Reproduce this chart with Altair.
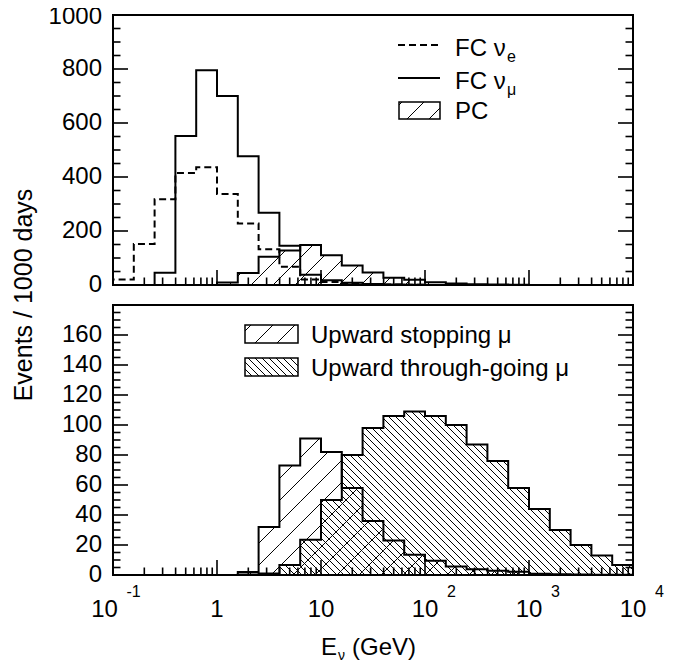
import math
import altair as alt
import pandas as pd

# ---------------- data ----------------
# log10 of the bin edges (5 bins per decade, 0.1 GeV .. 10^4 GeV)
EDGE_LOG10 = [-1.0, -0.8, -0.6, -0.4, -0.2, 0.0, 0.2, 0.4, 0.6, 0.8, 1.0, 1.2, 1.4,
              1.6, 1.8, 2.0, 2.2, 2.4, 2.6, 2.8, 3.0, 3.2, 3.4, 3.6, 3.8, 4.0]

# top panel, events / 1000 days per bin
FC_NUE = [20, 152, 318, 415, 436, 337, 228, 132, 68, 20, 11, 6, 3, 2, 1,
          0, 0, 0, 0, 0, 0, 0, 0, 0, 0]
FC_NUMU = [0, 0, 45, 552, 795, 700, 477, 268, 145, 38, 18, 8, 4, 2, 1,
           0, 0, 0, 0, 0, 0, 0, 0, 0, 0]
PC = [0, 0, 0, 0, 0, 9, 44, 105, 128, 148, 110, 72, 46, 27, 19, 10, 6, 3, 2, 1,
      0, 0, 0, 0, 0]

# bottom panel
UP_STOP = [0, 0, 0, 0, 0, 0, 2, 32, 73, 91, 82, 58, 36, 23, 13.5, 9.5, 5.6, 3.8,
           2.9, 2.2, 0.8, 0.5, 0.3, 0.2, 0.1]
UP_THRU = [0, 0, 0, 0, 0, 0, 0.3, 1, 6.7, 23.5, 50, 80, 98, 106, 109, 106, 100, 87,
           76, 58, 44, 30, 20, 13, 6.7]

TOP_Y_LABELS = [0, 200, 400, 600, 800, 1000]
BOT_Y_LABELS = [0, 20, 40, 60, 80, 100, 120, 140, 160]
X_MAJOR = [0.1, 1, 10, 100, 1000, 10000]
X_BASE = ["10", "1", "10", "10", "10", "10"]
X_EXP = ["-1", "", "", "2", "3", "4"]

# ---------------- layout / style ----------------
W, PH, GAP = 520, 270, 20
XMIN_LOG, XMAX_LOG = -1, 4
DEC_PX = W / (XMAX_LOG - XMIN_LOG)
TOP_MAX, BOT_MAX = 1000, 180
TOP_PX = PH / TOP_MAX
BOT_PX = PH / BOT_MAX
FONT = "Liberation Sans"
FS = 24
MAJ, MIN_ = 15, 7.5
TW = 1.6

XS = alt.Scale(type="log", domain=[0.1, 10000], range=[0, W], nice=False)
YS_TOP = alt.Scale(domain=[0, TOP_MAX], range=[PH, 0], nice=False, zero=False)
YS_BOT = alt.Scale(domain=[0, BOT_MAX], range=[2 * PH + GAP, PH + GAP], nice=False, zero=False)
ONE = pd.DataFrame({"a": [0]})


def X(f):
    return alt.X(f, type="quantitative", scale=XS, axis=None)


def Y(f, s):
    return alt.Y(f, type="quantitative", scale=s, axis=None)


def steps_df(vals):
    e = [10 ** v for v in EDGE_LOG10]
    pts = [(e[0], 0)] + [(e[i], v) for i, v in enumerate(vals)] + [(e[-1], vals[-1]), (e[-1], 0)]
    return pd.DataFrame({"x": [p[0] for p in pts], "y": [p[1] for p in pts],
                         "o": list(range(len(pts)))})


def hist_line(vals, ys, **style):
    return alt.Chart(steps_df(vals)).mark_line(
        interpolate="step-after", color="black", strokeWidth=2, **style
    ).encode(x=X("x"), y=Y("y", ys), order="o:Q")


def clip_lines(u0, u1, H, spacing, slash, phase):
    out = []
    if slash:  # '/'  v = u - c
        k0 = math.floor((u0 - H - phase) / spacing) - 1
        k1 = math.ceil((u1 - phase) / spacing) + 1
        for k in range(k0, k1 + 1):
            c = phase + k * spacing
            ua, ub = max(u0, c), min(u1, c + H)
            if ub - ua > 0.05:
                out.append((ua, ua - c, ub, ub - c))
    else:  # '\'  v = c - u
        k0 = math.floor((u0 - phase) / spacing) - 1
        k1 = math.ceil((u1 + H - phase) / spacing) + 1
        for k in range(k0, k1 + 1):
            c = phase + k * spacing
            ua, ub = max(u0, c - H), min(u1, c)
            if ub - ua > 0.05:
                out.append((ua, c - ua, ub, c - ub))
    return out


def hatch_df(vals, ypx, spacing, slash, phase=0.0):
    rows = []
    for i, h in enumerate(vals):
        if h <= 0:
            continue
        u0 = (EDGE_LOG10[i] - XMIN_LOG) * DEC_PX
        u1 = (EDGE_LOG10[i + 1] - XMIN_LOG) * DEC_PX
        rows += clip_lines(u0, u1, h * ypx, spacing, slash, phase)
    df = pd.DataFrame(rows, columns=["ua", "va", "ub", "vb"])
    df["x"] = 10 ** (df["ua"] / DEC_PX + XMIN_LOG)
    df["x2"] = 10 ** (df["ub"] / DEC_PX + XMIN_LOG)
    df["y"] = df["va"] / ypx
    df["y2"] = df["vb"] / ypx
    return df


def hatch_layer(vals, ys, ypx, spacing, slash, phase=0.0):
    return alt.Chart(hatch_df(vals, ypx, spacing, slash, phase)).mark_rule(
        color="black", strokeWidth=1
    ).encode(x=X("x"), x2="x2:Q", y=Y("y", ys), y2="y2:Q")


def box_hatch_df(bx0, by0, bx1, by1, spacing, slash, phase=0.0):
    segs = clip_lines(0, bx1 - bx0, by1 - by0, spacing, slash, phase)
    return pd.DataFrame({"x": [bx0 + s[0] for s in segs], "y": [by1 - s[1] for s in segs],
                         "x2": [bx0 + s[2] for s in segs], "y2": [by1 - s[3] for s in segs]})


def frame(y0, y1):
    return alt.Chart(ONE).mark_rect(fill="transparent", stroke="black", strokeWidth=2).encode(
        x=alt.value(0), x2=alt.value(W), y=alt.value(y0), y2=alt.value(y1))


def y_ticks(vals, ys, length):
    df = pd.DataFrame({"v": vals})
    left = alt.Chart(df).mark_rule(color="black", strokeWidth=TW).encode(
        y=Y("v", ys), x=alt.value(0), x2=alt.value(length))
    right = alt.Chart(df).mark_rule(color="black", strokeWidth=TW).encode(
        y=Y("v", ys), x=alt.value(W), x2=alt.value(W - length))
    return [left, right]


def x_ticks(vals, ybase, length):
    df = pd.DataFrame({"v": vals})
    return alt.Chart(df).mark_rule(color="black", strokeWidth=TW).encode(
        x=X("v"), y=alt.value(ybase), y2=alt.value(ybase - length))


def y_labels(vals, ys, dy=0):
    df = pd.DataFrame({"v": vals, "t": [str(v) for v in vals]})
    return alt.Chart(df).mark_text(align="right", baseline="middle", font=FONT, fontSize=FS,
                                   color="black", dy=dy).encode(
        y=Y("v", ys), x=alt.value(-11), text="t:N")


x_minor = [m * 10 ** d for d in range(-1, 4) for m in range(2, 10)]
top_minor = [v for v in range(0, TOP_MAX + 1, 50) if v % 200]
bot_minor = [v for v in range(0, BOT_MAX + 1, 5) if v % 20]
bot_major = list(range(0, BOT_MAX + 1, 20))

# ---------------- top panel ----------------
top_layers = [
    hatch_layer(PC, YS_TOP, TOP_PX, 22, True, 6),
    hist_line(PC, YS_TOP),
    hist_line(FC_NUE, YS_TOP, strokeDash=[7, 4]),
    hist_line(FC_NUMU, YS_TOP),
    frame(0, PH),
    *y_ticks(TOP_Y_LABELS, YS_TOP, MAJ),
    *y_ticks(top_minor, YS_TOP, MIN_),
    x_ticks(X_MAJOR, PH, MAJ),
    x_ticks(x_minor, PH, MIN_),
    y_labels(TOP_Y_LABELS[:-1], YS_TOP),
    y_labels(TOP_Y_LABELS[-1:], YS_TOP, dy=2),
]
top = alt.layer(*top_layers)

# ---------------- bottom panel ----------------
B0 = 2 * PH + GAP
xlab = pd.DataFrame({"v": X_MAJOR, "base": X_BASE, "exp": X_EXP})
bot_layers = [
    hatch_layer(UP_STOP, YS_BOT, BOT_PX, 22, True, 4),
    hatch_layer(UP_THRU, YS_BOT, BOT_PX, 7, False, 0),
    hist_line(UP_STOP, YS_BOT),
    hist_line(UP_THRU, YS_BOT),
    frame(PH + GAP, B0),
    *y_ticks(bot_major, YS_BOT, MAJ),
    *y_ticks(bot_minor, YS_BOT, MIN_),
    x_ticks(X_MAJOR, B0, MAJ),
    x_ticks(x_minor, B0, MIN_),
    y_labels(BOT_Y_LABELS, YS_BOT),
    alt.Chart(xlab.iloc[1:]).mark_text(align="center", baseline="alphabetic", font=FONT,
                                       fontSize=FS, color="black").encode(
        x=X("v"), y=alt.value(B0 + 42), text="base:N"),
    alt.Chart(xlab.iloc[:1]).mark_text(align="center", baseline="alphabetic", font=FONT,
                                       fontSize=FS, color="black", dx=-8.5).encode(
        x=X("v"), y=alt.value(B0 + 42), text="base:N"),
    alt.Chart(xlab.iloc[2:]).mark_text(align="left", baseline="alphabetic", font=FONT,
                                       fontSize=16, color="black", dx=22).encode(
        x=X("v"), y=alt.value(B0 + 22), text="exp:N"),
    alt.Chart(xlab.iloc[:1]).mark_text(align="left", baseline="alphabetic", font=FONT,
                                       fontSize=16, color="black", dx=13.5).encode(
        x=X("v"), y=alt.value(B0 + 22), text="exp:N"),
]
bottom = alt.layer(*bot_layers)

# ---------------- legends, titles (pixel positions) ----------------


def txt(s, x, y, size=FS, align="left", baseline="alphabetic", angle=None):
    kw = dict(text=s, align=align, baseline=baseline, font=FONT, fontSize=size, color="black")
    if angle is not None:
        kw["angle"] = angle
    return alt.Chart(ONE).mark_text(**kw).encode(x=alt.value(x), y=alt.value(y))


def box(x0, y0, x1, y1):
    return alt.Chart(ONE).mark_rect(fill="transparent", stroke="black", strokeWidth=1.5).encode(
        x=alt.value(x0), x2=alt.value(x1), y=alt.value(y0), y2=alt.value(y1))


def px_rules(df):
    return alt.Chart(df).mark_rule(color="black", strokeWidth=1).encode(
        x=alt.X("x:Q", scale=None, axis=None), x2="x2:Q",
        y=alt.Y("y:Q", scale=None, axis=None), y2="y2:Q")


leg_hatch = pd.concat([
    box_hatch_df(286, 87, 327, 104, 22, True, 8),
    box_hatch_df(132, 310, 185, 328, 22, True, 10),
    box_hatch_df(132, 343, 185, 361, 7, False, 0),
], ignore_index=True)

leg_layers = [
    alt.Chart(ONE).mark_rule(color="black", strokeWidth=2, strokeDash=[7, 4]).encode(
        x=alt.value(285), x2=alt.value(327), y=alt.value(30)),
    alt.Chart(ONE).mark_rule(color="black", strokeWidth=2).encode(
        x=alt.value(285), x2=alt.value(327), y=alt.value(63)),
    px_rules(leg_hatch),
    box(286, 87, 327, 104),
    box(132, 310, 185, 328),
    box(132, 343, 185, 361),
    txt("FC \u03bd", 342, 41),
    txt("e", 394, 47, size=16),
    txt("FC \u03bd", 342, 74),
    txt("\u03bc", 394, 80, size=16),
    txt("PC", 342, 104),
    txt("Upward stopping \u03bc", 198, 328),
    txt("Upward through-going \u03bc", 198, 361),
    txt("Events / 1000 days", -81, 280, size=25, align="center", angle=270),
    txt("E", 224, B0 + 80, align="right"),
    txt("\u03bd", 225, B0 + 85, size=14),
    txt("(GeV)", 239, B0 + 80),
]
legend = alt.layer(*leg_layers)

chart = alt.layer(top, bottom, legend).resolve_scale(x="independent", y="independent").properties(
    width=W, height=2 * PH + GAP,
    autosize=alt.AutoSizeParams(type="none"),
    padding={"left": 105, "top": 7, "right": 42, "bottom": 90},
    background="white",
).configure_view(stroke=None)

chart.save("out.html", embed_options={"renderer": "svg", "actions": False})
